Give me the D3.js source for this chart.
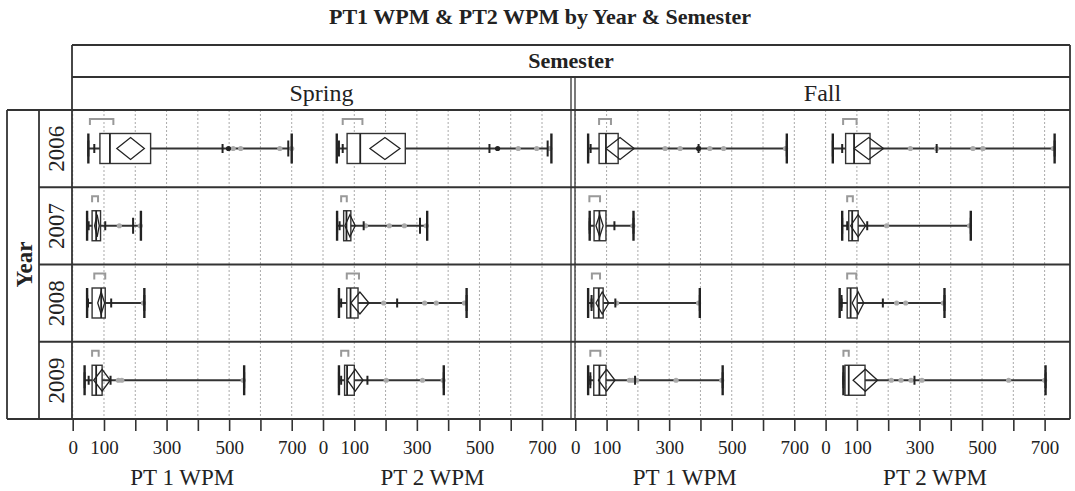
<!DOCTYPE html>
<html>
<head>
<meta charset="utf-8">
<title>PT1 WPM & PT2 WPM by Year & Semester</title>
<script src="https://d3js.org/d3.v7.min.js"></script>
<style>
body { margin: 0; background: #fff; }
text { font-family: "Liberation Serif", "Times New Roman", serif; fill: #222; }
.frame { stroke: #333; stroke-width: 1.8; fill: none; }
.grid { stroke: #aaa; stroke-width: 1; stroke-dasharray: 2,2; }
</style>
</head>
<body>
<svg id="chart" width="1075" height="491"></svg>
<script>
// panels are in order: for each year -> Spring PT1, Spring PT2, Fall PT1, Fall PT2
var years = ["2006", "2007", "2008", "2009"];
var semesters = ["Spring", "Fall"];
var measures = ["PT 1 WPM", "PT 2 WPM"];
var tickValues = [0, 100, 200, 300, 400, 500, 600, 700];
var tickLabels = [0, 100, 300, 500, 700];

var minV  = [50, 44, 41, 23,   46, 45, 46, 53,   46, 51, 41, 45,   38, 51, 41, 57];
var p025  = [50, 51, 41, 23,   46, 45, 46, 53,   46, 51, 52, 51,   38, 51, 48, 57];
var p10   = [69, 63, 49, 53,   51, 53, 46, 69,   49, 58, 52, 51,   51, 58, 48, 57];
var q1    = [87, 77, 76, 64,   62, 66, 60, 74,   62, 76, 59, 69,   62, 69, 59, 62];
var med   = [119, 119, 98, 91, 75, 75, 77, 85,   91, 88, 75, 80,   75, 77, 77, 74];
var q3    = [249, 263, 137, 142, 89, 89, 98, 104, 104, 112, 89, 101, 94, 100, 98, 126];
var p90   = [479, 532, 394, 355, 104, 130, 125, 133, 123, 237, 128, 183, 121, 142, 191, 284];
var p975  = [689, 718, 676, 732, 193, 310, 186, 464, 229, 459, 398, 380, 548, 386, 471, 703];
var maxV  = [700, 730, 676, 732, 218, 333, 186, 464, 229, 459, 398, 380, 548, 386, 471, 703];
var meanV = [185, 198, 143, 138, 78, 86, 78, 104,  91, 118, 86, 104,  94, 103, 100, 127];
var ciLo  = [141, 150, 98, 91,   70, 70, 66, 80,   80, 89, 66, 85,   67, 78, 74, 88];
var ciHi  = [229, 246, 188, 185, 85, 103, 89, 128, 102, 147, 107, 122, 120, 128, 127, 166];
var halfLo = [55, 63, 76, 56,   62, 58, 45, 69,   69, 76, 53, 69,   62, 58, 48, 57];
var halfHi = [130, 126, 114, 99, 81, 76, 79, 87,  104, 115, 79, 98,  83, 81, 80, 74];
var outliers = [
  [513, 537, 662, 700], [624, 683, 725], [287, 335, 430, 474, 672], [271, 355, 471, 503, 728],
  [149, 216], [136, 212, 260, 330], [184], [195, 460],
  [226], [194, 325, 362, 452], [132, 394], [227, 256, 376],
  [146, 157, 545], [202, 318, 384], [173, 183, 196, 322, 468], [210, 241, 273, 308, 585, 700]
];
var darkPts = [[498], [558], [394], [], [], [], [], [], [], [], [], [], [], [], [], []];

var svg = d3.select("#chart");

var colX0 = [72.7, 575.3];
var subW = 250.3;
var left = 72, right = 1070, top0 = 45, hdr1 = 77, rowTop = 110, bottom = 419;
var yRow = d3.scaleBand().domain(years).range([rowTop, bottom]);

function xScale(s, m) {
  var x0 = colX0[s] + m * subW;
  return d3.scaleLinear().domain([0, 800]).range([x0, x0 + subW]);
}

// gridlines
semesters.forEach(function(sem, s) {
  measures.forEach(function(meas, m) {
    var x = xScale(s, m);
    svg.append("g").selectAll("line").data(tickValues).join("line")
      .attr("class", "grid")
      .attr("x1", function(d) { return x(d); }).attr("x2", function(d) { return x(d); })
      .attr("y1", rowTop).attr("y2", bottom);
  });
});

// box plots
var panels = d3.range(years.length * 4);
panels.forEach(function(i) {
  var yi = Math.floor(i / 4), s = Math.floor((i % 4) / 2), m = i % 2;
  var x = xScale(s, m);
  var T = yRow(years[yi]);
  var cy = T + 38.5;
  var g = svg.append("g");

  // shortest half bracket
  g.append("path")
    .attr("d", "M" + x(halfLo[i]) + "," + (T + 15) + "V" + (T + 9) + "H" + x(halfHi[i]) + "V" + (T + 15))
    .attr("fill", "none").attr("stroke", "#999").attr("stroke-width", 2);

  // whisker line min..max
  g.append("line").attr("x1", x(minV[i])).attr("x2", x(maxV[i]))
    .attr("y1", cy).attr("y2", cy).attr("stroke", "#333").attr("stroke-width", 2);

  // outlier points
  g.selectAll("circle.o").data(outliers[i]).join("circle")
    .attr("cx", function(d) { return x(d); }).attr("cy", cy).attr("r", 2.6).attr("fill", "#aaa");
  g.selectAll("circle.d").data(darkPts[i]).join("circle")
    .attr("cx", function(d) { return x(d); }).attr("cy", cy).attr("r", 2.6).attr("fill", "#222");

  // quantile ticks
  [p025[i], p975[i]].forEach(function(v) {
    g.append("line").attr("x1", x(v)).attr("x2", x(v)).attr("y1", cy - 8).attr("y2", cy + 8)
      .attr("stroke", "#222").attr("stroke-width", 2);
  });
  [p10[i], p90[i]].forEach(function(v) {
    g.append("line").attr("x1", x(v)).attr("x2", x(v)).attr("y1", cy - 4.5).attr("y2", cy + 4.5)
      .attr("stroke", "#222").attr("stroke-width", 2);
  });
  [minV[i], maxV[i]].forEach(function(v) {
    g.append("line").attr("x1", x(v)).attr("x2", x(v)).attr("y1", cy - 15).attr("y2", cy + 15)
      .attr("stroke", "#222").attr("stroke-width", 2.4);
  });

  // box
  g.append("rect").attr("x", x(q1[i])).attr("y", cy - 15)
    .attr("width", x(q3[i]) - x(q1[i])).attr("height", 30)
    .attr("fill", "#fff").attr("stroke", "#333").attr("stroke-width", 1.4);
  g.append("line").attr("x1", x(med[i])).attr("x2", x(med[i])).attr("y1", cy - 15).attr("y2", cy + 15)
    .attr("stroke", "#222").attr("stroke-width", 1.8);

  // means diamond
  g.append("path")
    .attr("d", "M" + x(ciLo[i]) + "," + cy + "L" + x(meanV[i]) + "," + (cy - 11) +
      "L" + x(ciHi[i]) + "," + cy + "L" + x(meanV[i]) + "," + (cy + 11) + "Z")
    .attr("fill", "none").attr("stroke", "#222").attr("stroke-width", 1.3);
});

// frame
function ln(x1, y1, x2, y2, w) {
  svg.append("line").attr("class", "frame").attr("x1", x1).attr("y1", y1).attr("x2", x2).attr("y2", y2)
    .style("stroke-width", w || 1.8);
}
ln(left, top0, right, top0);
ln(left, hdr1, right, hdr1);
ln(7, rowTop, right, rowTop, 2.2);
years.slice(1).forEach(function(yr) { ln(39, yRow(yr), right, yRow(yr)); });
ln(7, bottom, right, bottom, 2.2);
ln(7, rowTop, 7, bottom);
ln(39, rowTop, 39, bottom);
ln(left, top0, left, bottom);
ln(right, top0, right, bottom);
ln(571, hdr1, 571, bottom, 1.3);
ln(575, hdr1, 575, bottom, 1.3);

// bottom axes
semesters.forEach(function(sem, s) {
  measures.forEach(function(meas, m) {
    var x = xScale(s, m);
    var ax = svg.append("g").attr("transform", "translate(0," + bottom + ")")
      .call(d3.axisBottom(x).tickValues(tickValues)
        .tickFormat(function(d) { return tickLabels.indexOf(d) >= 0 ? d : ""; })
        .tickSize(12).tickPadding(10));
    ax.select(".domain").remove();
    ax.selectAll(".tick line").attr("stroke", "#333").attr("stroke-width", 1.6);
    ax.selectAll(".tick text").style("font-family", "Liberation Serif").style("font-size", "19px").attr("fill", "#222");
    svg.append("text").attr("x", x(350)).attr("y", 485).attr("text-anchor", "middle")
      .style("font-size", "23px").text(meas);
  });
});

// headers
svg.append("text").attr("x", 540).attr("y", 24).attr("text-anchor", "middle")
  .style("font-size", "22px").style("font-weight", "bold")
  .text("PT1 WPM & PT2 WPM by Year & Semester");
svg.append("text").attr("x", (left + right) / 2).attr("y", 68).attr("text-anchor", "middle")
  .style("font-size", "22px").style("font-weight", "bold").text("Semester");
semesters.forEach(function(sem, s) {
  var cx = s === 0 ? (left + 571) / 2 : (575 + right) / 2;
  svg.append("text").attr("x", cx).attr("y", 100.5).attr("text-anchor", "middle")
    .style("font-size", "24px").text(sem);
});
years.forEach(function(yr) {
  svg.append("text")
    .attr("transform", "translate(64," + (yRow(yr) + yRow.bandwidth() / 2) + ") rotate(-90)")
    .attr("text-anchor", "middle").style("font-size", "23px").text(yr);
});
svg.append("text")
  .attr("transform", "translate(31.5," + (rowTop + bottom) / 2 + ") rotate(-90)")
  .attr("text-anchor", "middle").style("font-size", "23px").style("font-weight", "bold").text("Year");
</script>
</body>
</html>
